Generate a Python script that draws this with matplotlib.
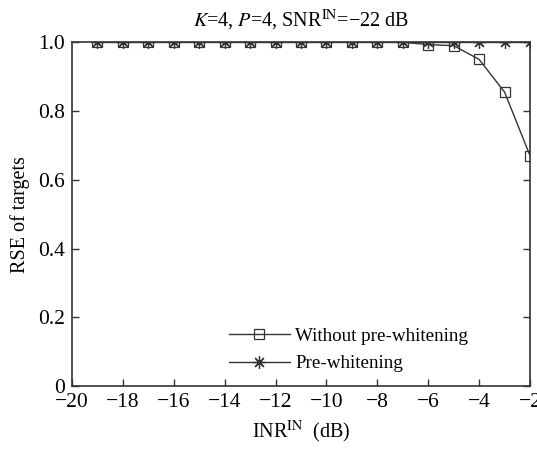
import matplotlib
matplotlib.use("Agg")
import matplotlib.pyplot as plt

plt.rcParams['font.family'] = ['Liberation Serif', 'DejaVu Serif']
plt.rcParams['mathtext.fontset'] = 'stix'

inr = [-19, -18, -17, -16, -15, -14, -13, -12, -11, -10, -9, -8, -7, -6, -5, -4, -3, -2]
without_pw = [1, 1, 1, 1, 1, 1, 1, 1, 1, 1, 1, 1, 1, 0.993, 0.99, 0.95, 0.855, 0.67]
with_pw = [1] * 18
xticks = [-20, -18, -16, -14, -12, -10, -8, -6, -4, -2]
yticks = [0, 0.2, 0.4, 0.6, 0.8, 1.0]
yticklabels = ['0', '0.2', '0.4', '0.6', '0.8', '1.0']
xticklabels = ['\u221220', '\u221218', '\u221216', '\u221214', '\u221212', '\u221210', '\u22128', '\u22126', '\u22124', '\u22122']

fig = plt.figure(figsize=(5.37, 4.59), dpi=100)
ax = fig.add_axes([0.134, 0.159, 0.853, 0.749])
c = '#333333'
ax.plot(inr, without_pw, color=c, lw=1.0, marker='s', markersize=7.5,
        markerfacecolor='none', markeredgecolor=c, markeredgewidth=0.9,
        label='Without pre-whitening')
ax.plot(inr, with_pw, color=c, lw=1.0, marker=(8, 2, 0), markersize=9,
        markeredgecolor=c, markeredgewidth=0.9, label='Pre-whitening')
ax.set_xlim(-20, -2)
ax.set_ylim(0, 1)
ax.set_xticks(xticks)
ax.set_xticklabels(xticklabels)
ax.set_yticks(yticks)
ax.set_yticklabels(yticklabels)
ax.tick_params(direction='in', labelsize=15.5, length=5, width=1, color=c,
               top=False, right=True, pad=5)
for s in ax.spines.values():
    s.set_linewidth(1.2)
    s.set_color(c)
ax.set_xlabel('INR$^{\\mathrm{IN}}$  (dB)', fontsize=14.5, labelpad=5)
ax.set_ylabel('RSE of targets', fontsize=14.5, labelpad=6)
ax.set_title('$K$=4, $P$=4, SNR$^{\\mathrm{IN}}$=\u221222 dB', fontsize=14.5, pad=11)
ax.legend(loc='lower left', bbox_to_anchor=(0.305, -0.01), frameon=False,
          fontsize=13.7, handlelength=3.2, handletextpad=0.3, labelspacing=0.55)
fig.savefig('out.png', dpi=100)
